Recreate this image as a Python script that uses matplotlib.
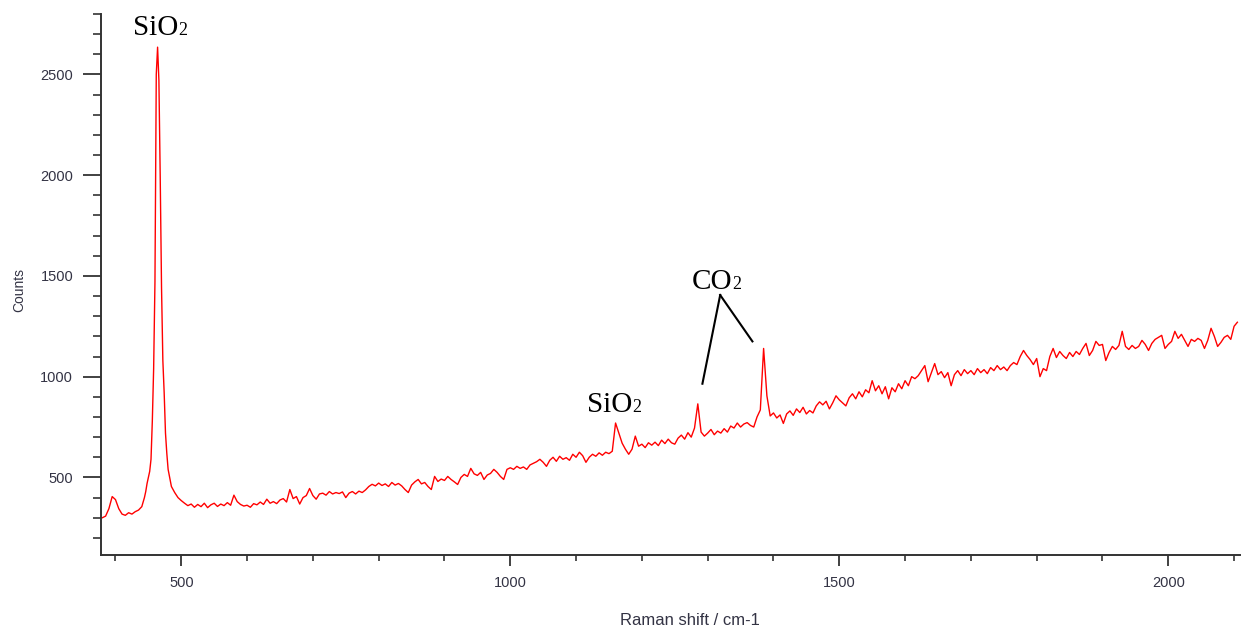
import numpy as np
import matplotlib
matplotlib.use("Agg")
import matplotlib.pyplot as plt
from matplotlib.ticker import MultipleLocator

# Raman spectrum, read in three pieces with their own sampling step
low_start, low_step = 380, 5
low_counts = [300, 308, 345, 405, 390, 345, 318, 312, 325, 318, 330, 338, 355]

peak_start, peak_step = 444, 2
peak_counts = [400, 430, 470, 500, 530, 590, 780, 1040, 1470, 2500,
               2635, 2470, 1990, 1440, 1080, 920, 720, 620, 540]

high_start, high_step = 485, 5
high_counts = [
    455, 425, 400,
    # 500 - 595
    385, 372, 360, 368, 352, 366, 355, 372, 350, 364,
    372, 356, 368, 360, 375, 362, 412, 380, 366, 358,
    # 600 - 695
    362, 352, 370, 364, 378, 366, 392, 372, 380, 370,
    388, 395, 378, 440, 395, 405, 368, 400, 410, 445,
    # 700 - 795
    410, 392, 418, 422, 412, 430, 418, 425, 420, 428,
    400, 422, 430, 418, 432, 425, 438, 455, 466, 458,
    # 800 - 895
    472, 460, 468, 455, 475, 462, 470, 458, 440, 425,
    462, 478, 490, 468, 475, 455, 440, 505, 480, 492,
    # 900 - 995
    485, 505, 490, 478, 465, 500, 515, 505, 545, 518,
    510, 525, 490, 512, 520, 540, 525, 505, 490, 540,
    # 1000 - 1095
    548, 540, 555, 545, 552, 540, 562, 570, 578, 590,
    575, 555, 585, 600, 580, 605, 590, 598, 585, 615,
    # 1100 - 1195
    600, 625, 608, 575, 600, 615, 605, 622, 610, 625,
    618, 630, 770, 720, 670, 640, 615, 640, 705, 655,
    # 1200 - 1295
    665, 648, 672, 660, 675, 658, 685, 668, 690, 672,
    665, 695, 710, 690, 722, 700, 745, 865, 725, 705,
    # 1300 - 1395
    720, 738, 712, 730, 720, 742, 725, 755, 745, 770,
    750, 765, 772, 758, 750, 800, 835, 1140, 905, 805,
    # 1400 - 1495
    820, 795, 810, 768, 815, 830, 808, 840, 822, 848,
    815, 832, 820, 855, 875, 860, 878, 840, 870, 905,
    # 1500 - 1595
    885, 870, 855, 895, 915, 890, 925, 900, 935, 920,
    980, 930, 955, 915, 950, 890, 945, 925, 965, 940,
    # 1600 - 1695
    980, 955, 1000, 990, 1005, 1030, 1055, 975, 1020, 1065,
    1010, 1025, 995, 1020, 955, 1010, 1030, 1005, 1035, 1015,
    # 1700 - 1795
    1030, 1010, 1040, 1020, 1035, 1015, 1045, 1030, 1055, 1035,
    1048, 1030, 1055, 1070, 1060, 1100, 1130, 1105, 1085, 1060,
    # 1800 - 1895
    1090, 1000, 1040, 1030, 1100, 1140, 1095, 1125, 1105, 1090,
    1120, 1100, 1125, 1110, 1140, 1165, 1105, 1130, 1175, 1155,
    # 1900 - 1995
    1160, 1080, 1120, 1150, 1135, 1155, 1225, 1150, 1135, 1155,
    1140, 1150, 1180, 1160, 1130, 1165, 1185, 1195, 1205, 1140,
    # 2000 - 2095
    1160, 1175, 1225, 1190, 1210, 1180, 1150, 1185, 1175, 1190,
    1180, 1140, 1180, 1240, 1200, 1150, 1170, 1195, 1205, 1185,
    # 2100 - 2105
    1250, 1270,
]

# peak labels: (text, shift, counts)
labels = [("SiO", 495, 2695), ("SiO", 1185, 825), ("CO", 1337, 1435)]
# leader lines from the CO2 label down to its two bands
co2_apex = (1319, 1405)
co2_ends = [(1292, 965), (1368, 1175)]


def piece(start, step, counts):
    return start + step * np.arange(len(counts))


shift = np.concatenate([piece(low_start, low_step, low_counts),
                        piece(peak_start, peak_step, peak_counts),
                        piece(high_start, high_step, high_counts)])
counts = np.array(low_counts + peak_counts + high_counts)

fig = plt.figure(figsize=(12.5, 6.32), dpi=100)
ax = fig.add_axes([0.0808, 0.1218, 0.9112, 0.8562])

ax.plot(shift, counts, color="#ff0000", lw=1.0)

ax.set_xlim(378, 2109)
ax.set_ylim(115, 2800)

for side in ("top", "right"):
    ax.spines[side].set_visible(False)
for side in ("left", "bottom"):
    ax.spines[side].set_color("#333333")
    ax.spines[side].set_linewidth(1.4)

ax.xaxis.set_major_locator(MultipleLocator(500))
ax.xaxis.set_minor_locator(MultipleLocator(100))
ax.yaxis.set_major_locator(MultipleLocator(500))
ax.yaxis.set_minor_locator(MultipleLocator(100))

ax.tick_params(axis="x", which="major", length=8, width=1.3, pad=7,
               color="#333333", labelsize=10.5, labelcolor="#333344")
ax.tick_params(axis="x", which="minor", length=4.5, width=1.2, color="#333333")
ax.tick_params(axis="y", which="major", length=13, width=1.3, pad=7,
               color="#333333", labelsize=10.5, labelcolor="#333344")
ax.tick_params(axis="y", which="minor", length=6, width=1.2, color="#333333")
for lab in ax.get_xticklabels() + ax.get_yticklabels():
    lab.set_fontfamily("Liberation Sans")

ax.set_xlabel("Raman shift / cm-1", fontsize=12, color="#333344",
              fontfamily="Liberation Sans")
ax.set_ylabel("Counts", fontsize=10, color="#333344",
              fontfamily="Liberation Sans")
ax.xaxis.set_label_coords(0.517, -0.107)
ax.yaxis.set_label_coords(-0.066, 0.49)

for text, x, y in labels:
    ax.text(x, y, text, ha="right", va="baseline", fontsize=21,
            fontfamily="Liberation Serif", color="black")
    ax.text(x, y, "2", ha="left", va="baseline", fontsize=13,
            fontfamily="Liberation Serif", color="black")

for ex, ey in co2_ends:
    ax.plot([co2_apex[0], ex], [co2_apex[1], ey], color="black", lw=1.5)

fig.savefig("out.png", dpi=100, facecolor="white")
